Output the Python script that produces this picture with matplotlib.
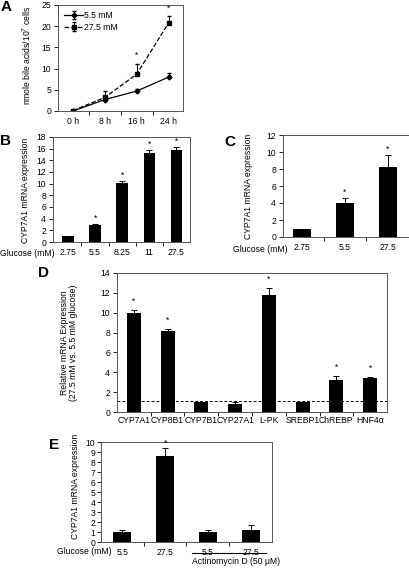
import numpy as np
import matplotlib
matplotlib.use("Agg")
import matplotlib.pyplot as plt
import matplotlib.transforms as mtrans
from matplotlib import font_manager

installed = {f.name for f in font_manager.fontManager.ttflist}
main_font = 'Liberation Sans Narrow' if 'Liberation Sans Narrow' in installed else 'Liberation Sans'
plt.rcParams['font.family'] = [main_font, 'DejaVu Sans']
FS = 7.5 if main_font == 'Liberation Sans Narrow' else 6.2
plt.rcParams['font.size'] = FS

# panel A - bile acid synthesis over time
times = ["0 h", "8 h", "16 h", "24 h"]
low_glc = [0.0, 2.7, 4.7, 8.0]
low_err = [0.1, 0.3, 0.4, 0.9]
high_glc = [0.1, 3.2, 8.7, 20.8]
high_err = [0.1, 1.6, 2.5, 1.5]
high_star = [False, False, True, True]

# panel B - glucose dose
glc_b = ["2.75", "5.5", "8.25", "11", "27.5"]
cyp_b = [1.0, 2.9, 10.1, 15.3, 15.8]
err_b = [0.0, 0.2, 0.4, 0.5, 0.5]
star_b = [False, True, True, True, True]

# panel C
glc_c = ["2.75", "5.5", "27.5"]
cyp_c = [1.0, 4.0, 8.2]
err_c = [0.0, 0.6, 1.4]
star_c = [False, True, True]

# panel D - gene panel
genes = ["CYP7A1", "CYP8B1", "CYP7B1", "CYP27A1", "L-PK", "SREBP1", "ChREBP", "HNF4\u03b1"]
rel_d = [10.0, 8.2, 1.0, 0.8, 11.8, 1.0, 3.2, 3.4]
err_d = [0.3, 0.15, 0.0, 0.2, 0.7, 0.0, 0.4, 0.1]
star_d = [True, True, False, False, True, False, True, True]

# panel E - actinomycin D
glc_e = ["5.5", "27.5", "5.5", "27.5"]
cyp_e = [1.0, 8.6, 1.0, 1.2]
err_e = [0.2, 0.8, 0.2, 0.5]
star_e = [False, True, False, False]

W, H = 410, 573
fig = plt.figure(figsize=(W / 100, H / 100), dpi=100)


def add_ax(left, right, top, bottom):
    return fig.add_axes([left / W, (H - bottom) / H, (right - left) / W, (bottom - top) / H])


def style(ax, n):
    ax.set_xticks(range(n))
    ax.tick_params(axis='x', length=0, pad=4)
    ax.set_xticks(np.arange(n - 1) + 0.5, minor=True)
    ax.tick_params(axis='x', which='minor', length=3, direction='out', width=0.6)
    ax.tick_params(axis='y', length=3, direction='out', width=0.6, pad=2)
    for s in ax.spines.values():
        s.set_linewidth(0.7)
        s.set_color('#555555')


def bars(ax, vals, errs, stars, labels, off):
    x = np.arange(len(vals))
    ax.bar(x, vals, width=0.42, color='black', zorder=2)
    ax.errorbar(x, vals, yerr=[np.zeros(len(errs)), errs], fmt='none', ecolor='black',
                elinewidth=0.7, capsize=2, capthick=0.7, zorder=3)
    for i, v in enumerate(vals):
        if stars[i]:
            ax.text(i, v + errs[i] + off, "*", ha='center', va='center', fontsize=FS)
    ax.set_xticklabels(labels)
    style(ax, len(vals))


# A
axA = add_ax(58, 183, 5, 111)
xa = np.arange(len(times))
axA.errorbar(xa, low_glc, yerr=[np.zeros(4), low_err], color='black', lw=0.9, marker='D',
             ms=2.5, capsize=1.5, elinewidth=0.7, label="5.5 mM")
axA.errorbar(xa, high_glc, yerr=[np.zeros(4), high_err], color='black', lw=0.9, ls='--',
             marker='s', ms=2.5, capsize=1.5, elinewidth=0.7, label="27.5 mM")
for i in range(4):
    if high_star[i]:
        axA.text(i, high_glc[i] + high_err[i] + 2.0, "*", ha='center', va='center')
axA.set_xlim(-0.47, 3.45)
axA.set_ylim(0, 25)
axA.set_yticks(range(0, 26, 5))
axA.set_xticklabels(times)
style(axA, 4)
axA.set_ylabel("nmole bile acids/10$^7$ cells")
axA.yaxis.set_label_coords(-0.2, 0.53)
axA.legend(loc='upper left', frameon=False, handlelength=2.2,
           borderaxespad=0.3, labelspacing=0.3, handletextpad=0.1)

# B
axB = add_ax(53, 190, 137, 242)
bars(axB, cyp_b, err_b, star_b, glc_b, 1.0)
axB.set_xlim(-0.55, 4.5)
axB.set_ylim(0, 18)
axB.set_yticks(range(0, 19, 2))
axB.set_ylabel("CYP7A1 mRNA expression")
axB.yaxis.set_label_coords(-0.165, 0.49)
fig.text(55 / W, 1 - 253 / H, "Glucose (mM)", ha='right', va='center')

# C
axC = add_ax(283, 409, 135, 237)
bars(axC, cyp_c, err_c, star_c, glc_c, 0.7)
axC.set_xlim(-0.45, 2.5)
axC.set_ylim(0, 12)
axC.set_yticks(range(0, 13, 2))
axC.set_ylabel("CYP7A1 mRNA expression")
axC.yaxis.set_label_coords(-0.24, 0.5)
fig.text(288 / W, 1 - 249 / H, "Glucose (mM)", ha='right', va='center')

# D
axD = add_ax(117, 387, 273, 412)
bars(axD, rel_d, err_d, star_d, genes, 0.9)
axD.axhline(1.1, color='black', ls='--', lw=0.7, dashes=(3, 2), zorder=1)
axD.set_xlim(-0.5, 7.5)
axD.set_ylim(0, 14)
axD.set_yticks(range(0, 15, 2))
axD.tick_params(axis='x', pad=3)
axD.set_ylabel("Relative mRNA Expression\n(27.5 mM vs. 5.5 mM glucose)", linespacing=1.0)
axD.yaxis.set_label_coords(-0.145, 0.5)

# E
axE = add_ax(101, 272, 442, 542)
bars(axE, cyp_e, err_e, star_e, glc_e, 0.5)
axE.set_xlim(-0.5, 3.5)
axE.set_ylim(0, 10)
axE.set_yticks(range(0, 11, 1))
axE.tick_params(axis='y', pad=1)
axE.set_ylabel("CYP7A1 mRNA expression")
axE.yaxis.set_label_coords(-0.12, 0.56)
fig.text(112 / W, 1 - 551 / H, "Glucose (mM)", ha='right', va='center')
tr = mtrans.blended_transform_factory(axE.transData, axE.transAxes)
axE.plot([1.63, 3.37], [-0.11, -0.11], color='black', lw=0.8, transform=tr, clip_on=False)
axE.text(2.65, -0.2, "Actinomycin D (50 \u03bcM)", ha='center', va='center', transform=tr)

# panel letters
for lab, px, py in [("A", 6, 7), ("B", 6, 141), ("C", 230, 142), ("D", 44, 273), ("E", 54, 445)]:
    fig.text(px / W, 1 - py / H, lab, fontsize=11, fontweight='bold', ha='center', va='center',
             family=['Liberation Sans', 'DejaVu Sans'])

fig.savefig("out.png", dpi=100)
